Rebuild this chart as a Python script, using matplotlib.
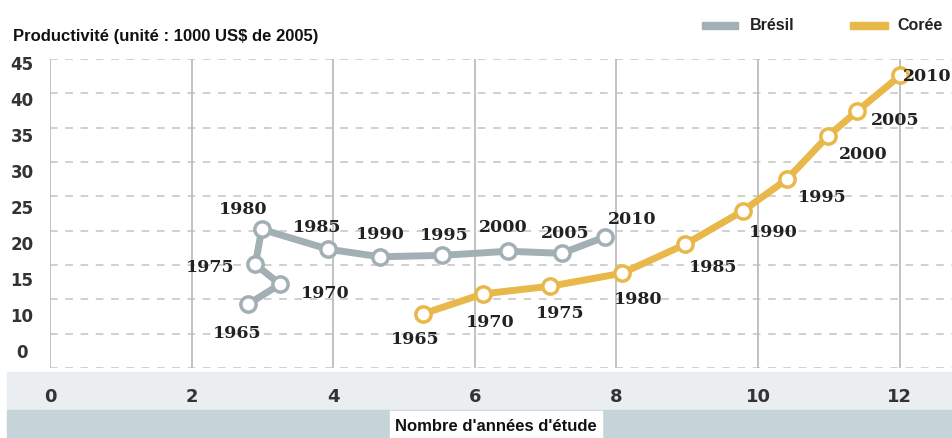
import numpy as np
import matplotlib
matplotlib.use("Agg")
import matplotlib.pyplot as plt
from matplotlib.patches import Rectangle
from matplotlib.transforms import blended_transform_factory

# data
years = [1965, 1970, 1975, 1980, 1985, 1990, 1995, 2000, 2005, 2010]
bresil_x = [2.80, 3.25, 2.90, 2.99, 3.93, 4.66, 5.53, 6.47, 7.23, 7.84]
bresil_y = [9.3, 12.2, 15.1, 20.2, 17.3, 16.2, 16.4, 17.0, 16.7, 19.1]
coree_x = [5.27, 6.12, 7.06, 8.08, 8.97, 9.79, 10.41, 10.99, 11.40, 12.01]
coree_y = [7.9, 10.8, 11.9, 13.8, 18.0, 22.9, 27.5, 33.8, 37.4, 42.6]
ytick_labels = ["45", "40", "35", "30", "25", "20", "15", "10", "0"]
xticks = [0, 2, 4, 6, 8, 10, 12]

# label offsets (pixels) for the year annotations
bresil_off = [(-11, -28), (45, -8), (-45, -2), (-19, 21), (-11, 23),
              (0, 23), (3, 21), (-5, 25), (3, 21), (27, 18)]
coree_off = [(-8, -25), (7, -28), (10, -26), (16, -25), (28, -22),
             (30, -21), (35, -17), (35, -18), (38, -8), (27, 0)]

GRIS = "#a2b0b6"
OR = "#e8b84a"
TXT = "#222222"

W, H = 953, 439
fig = plt.figure(figsize=(W / 100, H / 100), dpi=100)
fig.patch.set_facecolor("white")

# bands at the bottom
fig.patches.append(Rectangle((7 / W, (H - 411) / H), 1 - 7 / W, 38 / H,
                             transform=fig.transFigure, color="#eaeef1", zorder=-2))
fig.patches.append(Rectangle((7 / W, 0), 1 - 7 / W, (H - 411) / H,
                             transform=fig.transFigure, color="#c6d3d9", zorder=-2))
fig.patches.append(Rectangle((390 / W, 0), 212 / W, (H - 412) / H,
                             transform=fig.transFigure, color="white", zorder=-1))
fig.text(496 / W, (H - 427) / H, "Nombre d'années d'étude", ha="center", va="center",
         fontsize=12, fontweight="bold", family="Liberation Sans", color="#111111")

ax = fig.add_axes([50 / W, (H - 369) / H, (W - 50) / W, 309 / H])
ax.set_zorder(2)
ax.set_xlim(0, (W - 50) / 70.8)
ax.set_ylim(0, 45)
ax.set_facecolor("none")
for s in ax.spines.values():
    s.set_visible(False)

for yv in np.arange(0, 46, 5):
    ax.axhline(yv, color="#c4c4c4", lw=1.1, ls=(0, (5, 5)), zorder=1)
for xv in xticks:
    ax.axvline(xv, color="#bdbdbd", lw=1.3, zorder=1)

ax.set_xticks(xticks)
ax.set_xticklabels([str(v) for v in xticks], fontsize=13, fontweight="bold", color="#333333")
ax.tick_params(axis="x", length=0, pad=14)
ax.set_yticks([])

# y labels drift a bit relative to the gridlines in the original
ytr = blended_transform_factory(ax.transAxes, ax.transData)
for lab, yp in zip(ytick_labels, np.linspace(44.3, 2.3, len(ytick_labels))):
    ax.text(-28 / (W - 50), yp, lab, transform=ytr, ha="center", va="center",
            fontsize=12, fontweight="bold", color="#333333", clip_on=False)

ax.plot(bresil_x, bresil_y, color=GRIS, lw=5, zorder=3, solid_capstyle="round",
        marker="o", ms=11, mfc="white", mec=GRIS, mew=2.5)
ax.plot(coree_x, coree_y, color=OR, lw=5, zorder=3, solid_capstyle="round",
        marker="o", ms=11, mfc="white", mec=OR, mew=2.5)

for xs, ys, offs in [(bresil_x, bresil_y, bresil_off), (coree_x, coree_y, coree_off)]:
    for yr, x, y, (dx, dy) in zip(years, xs, ys, offs):
        ax.annotate(str(yr), (x, y), xytext=(dx, dy), textcoords="offset pixels",
                    ha="center", va="center", fontsize=12.5, fontweight="bold",
                    family="DejaVu Serif", color=TXT, annotation_clip=False, zorder=4)

# title and legend
fig.text(13 / W, (H - 37) / H, "Productivité (unité : 1000 US$ de 2005)", ha="left",
         va="center", fontsize=12, fontweight="bold", family="Liberation Sans", color="#111111")
fig.patches.append(Rectangle((702 / W, (H - 30) / H), 36 / W, 7 / H,
                             transform=fig.transFigure, color=GRIS))
fig.text(750 / W, (H - 26) / H, "Brésil", ha="left", va="center", fontsize=11.5,
         fontweight="bold", family="Liberation Sans", color="#222222")
fig.patches.append(Rectangle((850 / W, (H - 30) / H), 38 / W, 7 / H,
                             transform=fig.transFigure, color=OR))
fig.text(897 / W, (H - 26) / H, "Corée", ha="left", va="center", fontsize=11.5,
         fontweight="bold", family="Liberation Sans", color="#222222")

fig.savefig("out.png", dpi=100)
